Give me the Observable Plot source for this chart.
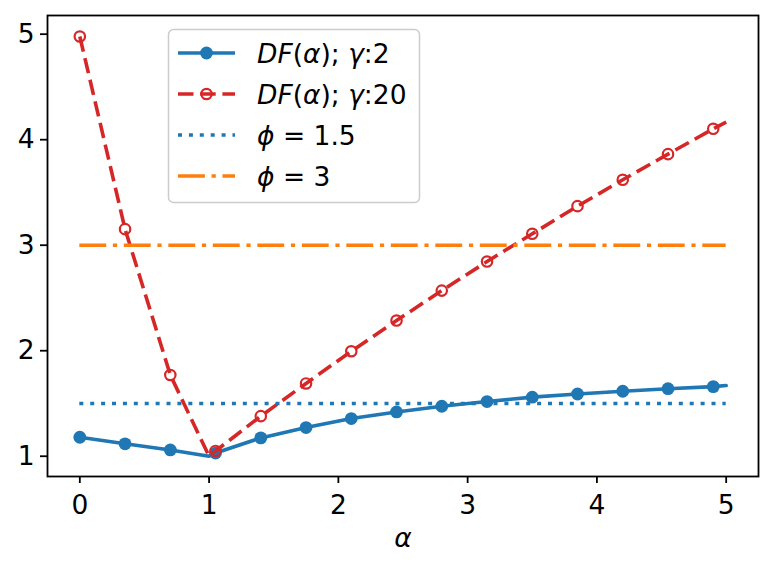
<!DOCTYPE html>
<html>
<head>
<meta charset="utf-8">
<script src="https://cdn.jsdelivr.net/npm/d3@7"></script>
<script src="https://cdn.jsdelivr.net/npm/@observablehq/plot@0.6"></script>
<style>
  body { margin: 0; background: #fff; }
  #wrap { position: relative; width: 773px; height: 569px; font-family: "DejaVu Sans", sans-serif; }
  #legend { position: absolute; left: 0; top: 0; pointer-events: none; }
</style>
</head>
<body>
<div id="wrap"></div>
<script>
// ---- data ----
const alpha      = [0, 0.35, 0.7, 1.0, 1.05, 1.4, 1.75, 2.1, 2.45, 2.8, 3.15, 3.5, 3.85, 4.2, 4.55, 4.9, 5.0];
const dfGamma2   = [1.18, 1.118, 1.06, 1.0, 1.03, 1.174, 1.272, 1.357, 1.42, 1.474, 1.518, 1.56, 1.59, 1.616, 1.64, 1.66, 1.67];
const dfGamma20  = [4.978, 3.152, 1.77, 1.0, 1.05, 1.38, 1.69, 1.995, 2.286, 2.57, 2.845, 3.108, 3.37, 3.62, 3.863, 4.103, 4.166];
const markerAlpha = [0, 0.35, 0.7, 1.05, 1.4, 1.75, 2.1, 2.45, 2.8, 3.15, 3.5, 3.85, 4.2, 4.55, 4.9];
const phiLevels  = [1.5, 3];
const phiStart   = 0;
const phiEnd     = 5;
const xTicks     = [0, 1, 2, 3, 4, 5];
const yTicks     = [1, 2, 3, 4, 5];

// ---- styles ----
const BLUE = "#1f77b4", RED = "#d62728", ORANGE = "#ff7f0e";
const LW = 3.6;
const FS = 26.5;

const g2 = alpha.map((a, i) => ({a, v: dfGamma2[i]}));
const g20 = alpha.map((a, i) => ({a, v: dfGamma20[i]}));
const isMarker = d => markerAlpha.includes(d.a);
const phiData = phiLevels.map(p => ({p, x1: phiStart, x2: phiEnd}));

const chart = Plot.plot({
  width: 773,
  height: 569,
  marginLeft: 47,
  marginRight: 15,
  marginTop: 15,
  marginBottom: 93,
  style: {fontFamily: "DejaVu Sans, sans-serif", background: "white", color: "black"},
  x: {domain: [-0.25, 5.25]},
  y: {domain: [0.808, 5.177]},
  marks: [
    Plot.line(g2, {x: "a", y: "v", stroke: BLUE, strokeWidth: LW}),
    Plot.dot(g2.filter(isMarker), {x: "a", y: "v", r: 6.4, fill: BLUE, stroke: "none"}),
    Plot.line(g20, {x: "a", y: "v", stroke: RED, strokeWidth: LW, strokeDasharray: "15.5,6.7", strokeLinecap: "butt"}),
    Plot.dot(g20.filter(isMarker), {x: "a", y: "v", r: 5.2, fill: "none", stroke: RED, strokeWidth: 2.2}),
    Plot.ruleY(phiData.filter(d => d.p === 1.5), {y: "p", x1: "x1", x2: "x2", stroke: BLUE, strokeWidth: LW, strokeDasharray: "4,6.9", strokeLinecap: "butt"}),
    Plot.ruleY(phiData.filter(d => d.p === 3), {y: "p", x1: "x1", x2: "x2", stroke: ORANGE, strokeWidth: LW, strokeDasharray: "26.9,6.7,4.2,6.7", strokeLinecap: "butt"}),
    Plot.frame({stroke: "black", strokeWidth: 1.8}),
    Plot.axisX(xTicks, {tickSize: 7, tickPadding: 12, fontSize: FS, strokeWidth: 1.8, label: null, tickFormat: d => String(d)}),
    Plot.axisY(yTicks, {tickSize: 7, tickPadding: 6, fontSize: FS, strokeWidth: 1.8, label: null, tickFormat: d => String(d)}),
    Plot.text(["α"], {frameAnchor: "bottom", dy: 70, text: d => d, fontSize: FS, fontStyle: "italic"})
  ]
});

const wrap = document.getElementById("wrap");
wrap.appendChild(chart);

// ---- legend (drawn as an overlay) ----
const lg = d3.select(wrap).append("svg")
  .attr("id", "legend").attr("width", 773).attr("height", 569);
lg.append("rect")
  .attr("x", 168.5).attr("y", 29.5).attr("width", 251).attr("height", 173)
  .attr("rx", 5).attr("fill", "white").attr("fill-opacity", 0.8)
  .attr("stroke", "#cccccc").attr("stroke-width", 1.5);

const rows = [
  {type: "g2", parts: [["DF", true], ["(", false], ["α", true], ["); ", false], ["γ", true], [":2", false]]},
  {type: "g20", parts: [["DF", true], ["(", false], ["α", true], ["); ", false], ["γ", true], [":20", false]]},
  {type: "p15", parts: [["ϕ", true], [" = 1.5", false]]},
  {type: "p3", parts: [["ϕ", true], [" = 3", false]]}
];
const rowY = [53, 94, 135, 176];
const sx1 = 178, sx2 = 235, smid = 206.5, tx = 257;
rows.forEach((r, i) => {
  const y = rowY[i];
  const ln = lg.append("line").attr("x1", sx1).attr("x2", sx2).attr("y1", y).attr("y2", y)
    .attr("stroke-width", LW).attr("stroke-linecap", "butt");
  if (r.type === "g2") {
    ln.attr("stroke", BLUE);
    lg.append("circle").attr("cx", smid).attr("cy", y).attr("r", 6.4).attr("fill", BLUE);
  } else if (r.type === "g20") {
    ln.attr("stroke", RED).attr("stroke-dasharray", "15.5,6.7");
    lg.append("circle").attr("cx", smid).attr("cy", y).attr("r", 5.2).attr("fill", "none").attr("stroke", RED).attr("stroke-width", 2.2);
  } else if (r.type === "p15") {
    ln.attr("stroke", BLUE).attr("stroke-dasharray", "4,6.9");
  } else {
    ln.attr("stroke", ORANGE).attr("stroke-dasharray", "26.9,6.7,4.2,6.7");
  }
  const t = lg.append("text").attr("x", tx).attr("y", y).attr("dy", "0.36em")
    .attr("font-family", "DejaVu Sans, sans-serif").attr("font-size", FS).attr("fill", "black")
    .attr("xml:space", "preserve").style("white-space", "pre");
  r.parts.forEach(([s, it]) => {
    t.append("tspan").text(s).attr("font-style", it ? "italic" : "normal");
  });
});
</script>
</body>
</html>
